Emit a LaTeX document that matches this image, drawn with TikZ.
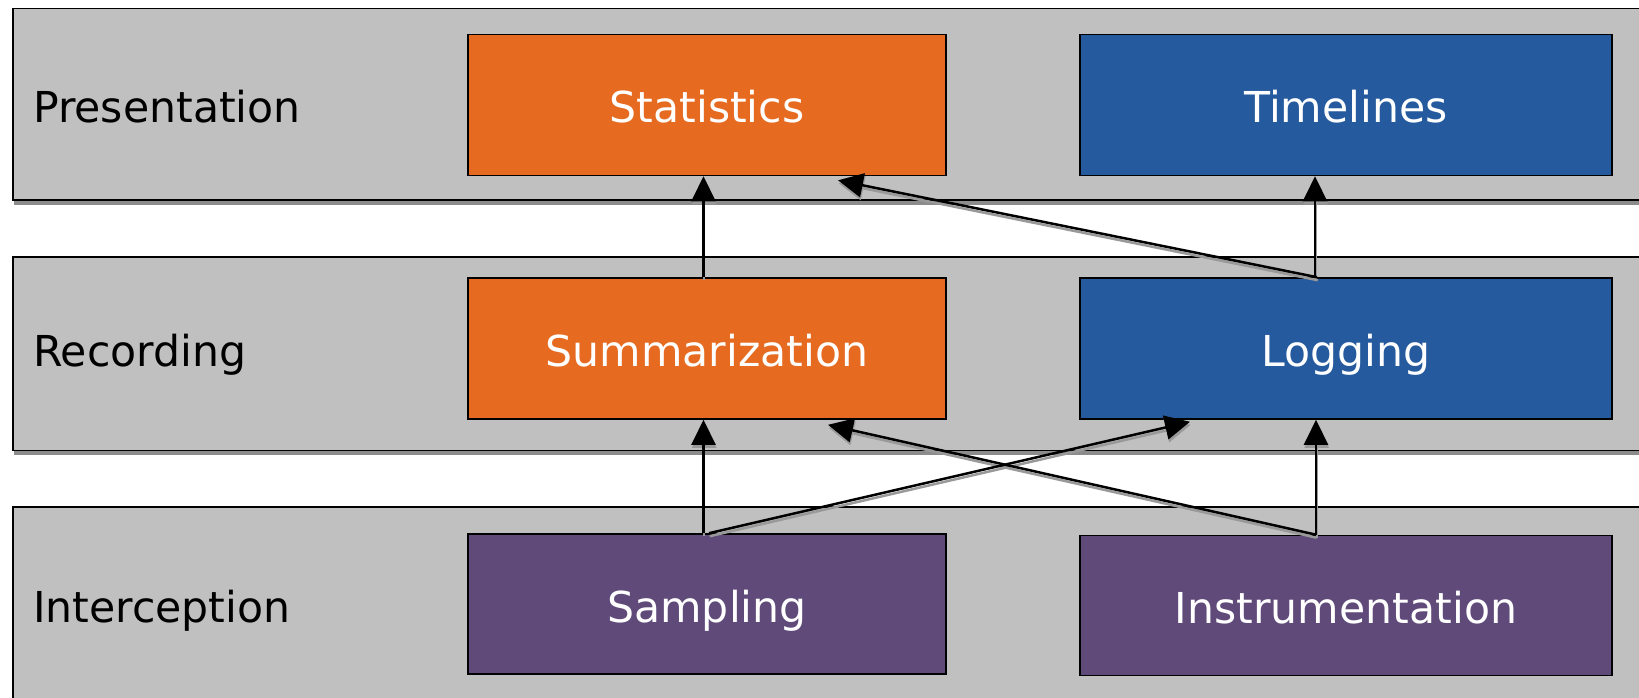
\documentclass[tikz,border=0pt]{standalone}
\usepackage{fontspec}
\setmainfont{DejaVu Sans}
\usetikzlibrary{arrows.meta,calc}
\definecolor{orng}{HTML}{E66A1F}
\definecolor{blu}{HTML}{255A9E}
\definecolor{purp}{HTML}{5F4A7A}
\definecolor{bandgray}{HTML}{C0C0C0}
\begin{document}
\begin{tikzpicture}[x=1pt,y=-1pt,
  band/.style={draw=black,line width=1.5pt,fill=bandgray},
  bandshadow/.style={fill=black!45},
  box/.style={draw=black,line width=1.6pt,minimum height=141pt,text=white,
    font=\fontsize{42.6}{50}\selectfont,text height=36pt,text depth=0pt,inner sep=0pt},
  lbox/.style={box,minimum width=478pt},
  rbox/.style={box,minimum width=532pt},
  layer/.style={anchor=base west,font=\fontsize{42.6}{50}\selectfont,inner sep=0pt},
  conn/.style={draw=black,line width=2.5pt,-{Triangle[length=25pt,width=24pt]}},
  connshadow/.style={conn,draw=black!40,transform canvas={xshift=0.7pt,yshift=-3pt}}]
\useasboundingbox (0,0) rectangle (1639,698);
% bands
\fill[bandshadow] (14,13) rectangle (1700,205);
\draw[band] (13,8.5) rectangle (1700,200);
\fill[bandshadow] (14,262) rectangle (1700,455);
\draw[band] (13,257) rectangle (1700,450.5);
\draw[band] (13,507) rectangle (1700,760);
% layer labels
\node[layer] (lp) at (33,123) {Presentation};
\node[layer] (lr) at (33,366) {Recording};
\node[layer] (li) at (33,622) {Interception};
% boxes
\node[lbox,fill=orng] (stat) at (707,105) {Statistics};
\node[rbox,fill=blu] (time) at (1346,105) {Timelines};
\node[lbox,fill=orng] (summ) at (707,348.5) {Summarization};
\node[rbox,fill=blu] (log) at (1346,348.5) {Logging};
\node[lbox,fill=purp,minimum height=140pt] (samp) at (707,604) {Sampling};
\node[rbox,fill=purp,minimum height=140pt] (inst) at (1346,605.5) {Instrumentation};
% connectors (shadow first, then line)
\foreach \s in {connshadow,conn}{
  \draw[\s] ($(summ.north)+(-3.5,0)$) -- ($(stat.south)+(-3.5,0)$);
  \draw[\s] ($(log.north)+(-31,0)$) -- ($(time.south)+(-31,0)$);
  \draw[\s] ($(log.north)+(-29,0)$) -- ($(stat.south)+(131,4)$);
  \draw[\s] ($(samp.north)+(-3.5,0)$) -- ($(summ.south)+(-3.5,0)$);
  \draw[\s] ($(samp.north)+(2,0)$) -- ($(log.south)+(-156,2)$);
  \draw[\s] ($(inst.north)+(-30,0)$) -- ($(log.south)+(-30,0)$);
  \draw[\s] ($(inst.north)+(-30,0)$) -- ($(summ.south)+(121,5)$);
}
\end{tikzpicture}
\end{document}
